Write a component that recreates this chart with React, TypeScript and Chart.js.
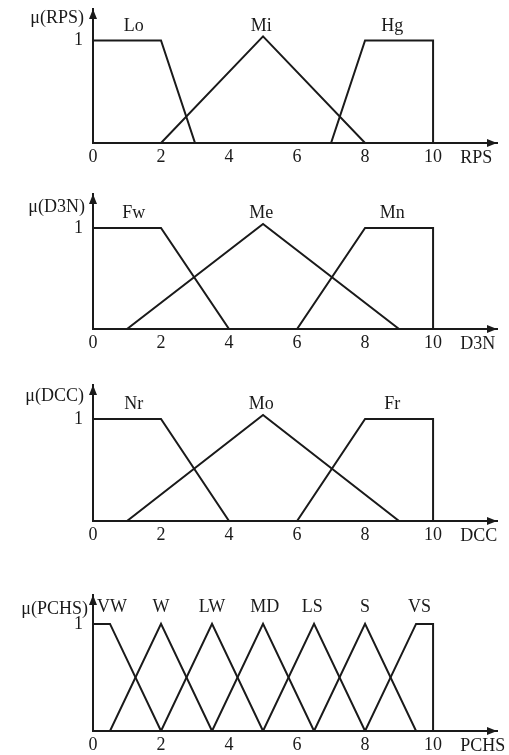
import React, { useEffect, useRef } from "react";
import { Chart, registerables } from "chart.js";

Chart.register(...registerables);

const INK = "#1a1a1a";
const FONT = "'Liberation Serif', 'DejaVu Serif', serif";

// shared tick labels
const xTicks = [0, 2, 4, 6, 8, 10];
const yTicks = [1];

// Panel 1: RPS
const rpsNames = ["Lo", "Mi", "Hg"];
const rpsX = [[0, 0, 2, 3], [2, 5, 8], [7, 8, 10, 10]];
const rpsY = [[0, 1, 1, 0], [0, 1.04, 0], [0, 1, 1, 0]];
const rpsLabelX = [1.2, 4.95, 8.8];

// Panel 2: D3N
const d3nNames = ["Fw", "Me", "Mn"];
const d3nX = [[0, 0, 2, 4], [1, 5, 9], [6, 8, 10, 10]];
const d3nY = [[0, 1, 1, 0], [0, 1.04, 0], [0, 1, 1, 0]];
const d3nLabelX = [1.2, 4.95, 8.8];

// Panel 3: DCC
const dccNames = ["Nr", "Mo", "Fr"];
const dccX = [[0, 0, 2, 4], [1, 5, 9], [6, 8, 10, 10]];
const dccY = [[0, 1, 1, 0], [0, 1.04, 0], [0, 1, 1, 0]];
const dccLabelX = [1.2, 4.95, 8.8];

// Panel 4: PCHS
const pchsNames = ["VW", "W", "LW", "MD", "LS", "S", "VS"];
const pchsX = [
  [0, 0, 0.5, 2],
  [0.5, 2, 3.5],
  [2, 3.5, 5],
  [3.5, 5, 6.5],
  [5, 6.5, 8],
  [6.5, 8, 9.5],
  [8, 9.5, 10, 10],
];
const pchsY = [
  [0, 1, 1, 0],
  [0, 1, 0],
  [0, 1, 0],
  [0, 1, 0],
  [0, 1, 0],
  [0, 1, 0],
  [0, 1, 1, 0],
];
const pchsLabelX = [0.56, 2, 3.5, 5.05, 6.45, 8, 9.6];

type PanelDef = {
  title: string;
  axisName: string;
  names: string[];
  xs: number[][];
  ys: number[][];
  labelX: number[];
  labelY: number;
  titleY: number;
  // layout
  titleGap: number;
  top: number;
  h: number;
  tip: number;
  base: number;
  ymax: number;
};

const panels: PanelDef[] = [
  { title: "μ(RPS)", axisName: "RPS", names: rpsNames, xs: rpsX, ys: rpsY, labelX: rpsLabelX, labelY: 1.14, titleY: 1.22, titleGap: 9, top: 0, h: 178, tip: 9, base: 143, ymax: 1.307 },
  { title: "μ(D3N)", axisName: "D3N", names: d3nNames, xs: d3nX, ys: d3nY, labelX: d3nLabelX, labelY: 1.15, titleY: 1.21, titleGap: 8, top: 180, h: 188, tip: 14, base: 149, ymax: 1.337 },
  { title: "μ(DCC)", axisName: "DCC", names: dccNames, xs: dccX, ys: dccY, labelX: dccLabelX, labelY: 1.14, titleY: 1.22, titleGap: 9, top: 370, h: 188, tip: 15, base: 151, ymax: 1.333 },
  { title: "μ(PCHS)", axisName: "PCHS", names: pchsNames, xs: pchsX, ys: pchsY, labelX: pchsLabelX, labelY: 1.16, titleY: 1.14, titleGap: 5, top: 560, h: 195, tip: 35, base: 171, ymax: 1.27 },
];

const WIDTH = 509;
const X_MAX = 11.88;

function Panel({ p }: { p: PanelDef }) {
  const ref = useRef<HTMLCanvasElement | null>(null);
  useEffect(() => {
    if (!ref.current) return;
    const decor = {
      id: "decor" + p.axisName,
      afterDraw(chart: any) {
        const { ctx, chartArea } = chart;
        const { left, right, top, bottom } = chartArea;
        const xs = chart.scales.x;
        const ys = chart.scales.y;
        ctx.save();
        ctx.fillStyle = INK;
        // x arrowhead
        ctx.beginPath();
        ctx.moveTo(right, bottom);
        ctx.lineTo(right - 10, bottom - 4);
        ctx.lineTo(right - 10, bottom + 4);
        ctx.closePath();
        ctx.fill();
        // y arrowhead
        ctx.beginPath();
        ctx.moveTo(left, top);
        ctx.lineTo(left - 4, top + 10);
        ctx.lineTo(left + 4, top + 10);
        ctx.closePath();
        ctx.fill();
        ctx.font = `18px ${FONT}`;
        ctx.textBaseline = "middle";
        ctx.textAlign = "center";
        p.names.forEach((n, i) => {
          ctx.fillText(n, xs.getPixelForValue(p.labelX[i]), ys.getPixelForValue(p.labelY));
        });
        ctx.textAlign = "right";
        ctx.fillText(p.title, left - p.titleGap, ys.getPixelForValue(p.titleY));
        ctx.textAlign = "left";
        ctx.fillText(p.axisName, xs.getPixelForValue(10.8), bottom + 15);
        ctx.restore();
      },
    };
    const chart = new Chart(ref.current, {
      type: "scatter",
      data: {
        datasets: p.xs.map((xs, i) => ({
          label: p.names[i],
          data: xs.map((x, j) => ({ x, y: p.ys[i][j] })),
          showLine: true,
          borderColor: INK,
          borderWidth: 2,
          pointRadius: 0,
          pointHoverRadius: 0,
          fill: false,
          tension: 0,
        })),
      },
      options: {
        animation: false,
        responsive: false,
        maintainAspectRatio: false,
        events: [],
        layout: { padding: { top: p.tip, right: WIDTH - 497, left: 0, bottom: 0 } },
        plugins: { legend: { display: false }, tooltip: { enabled: false } },
        scales: {
          x: {
            type: "linear",
            min: 0,
            max: X_MAX,
            grid: { display: false, drawTicks: false },
            border: { display: true, color: INK, width: 2 },
            ticks: { color: INK, font: { family: FONT, size: 18 }, padding: 3, autoSkip: false, maxRotation: 0 },
            afterBuildTicks: (ax: any) => {
              ax.ticks = xTicks.map((v) => ({ value: v }));
            },
            afterFit: (ax: any) => {
              ax.height = p.h - p.base;
              ax.paddingLeft = 0;
              ax.paddingRight = 0;
              ax.paddingTop = 0;
              ax.paddingBottom = 0;
            },
          },
          y: {
            type: "linear",
            min: 0,
            max: p.ymax,
            grid: { display: false, drawTicks: false },
            border: { display: true, color: INK, width: 2 },
            ticks: { color: INK, font: { family: FONT, size: 18 }, padding: 10 },
            afterBuildTicks: (ax: any) => {
              ax.ticks = yTicks.map((v) => ({ value: v }));
            },
            afterFit: (ax: any) => {
              ax.width = 93;
              ax.paddingTop = 0;
              ax.paddingBottom = 0;
              ax.paddingLeft = 0;
              ax.paddingRight = 0;
            },
          },
        },
      } as any,
      plugins: [decor],
    });
    return () => chart.destroy();
  }, [p]);
  return (
    <canvas
      ref={ref}
      width={WIDTH}
      height={p.h}
      style={{ position: "absolute", left: 0, top: p.top, width: WIDTH, height: p.h, display: "block" }}
    />
  );
}

export default function App() {
  return (
    <div style={{ position: "fixed", left: 0, top: 0, width: WIDTH, height: 755, background: "#fff", overflow: "hidden" }}>
      {panels.map((p) => (
        <Panel key={p.axisName} p={p} />
      ))}
    </div>
  );
}
